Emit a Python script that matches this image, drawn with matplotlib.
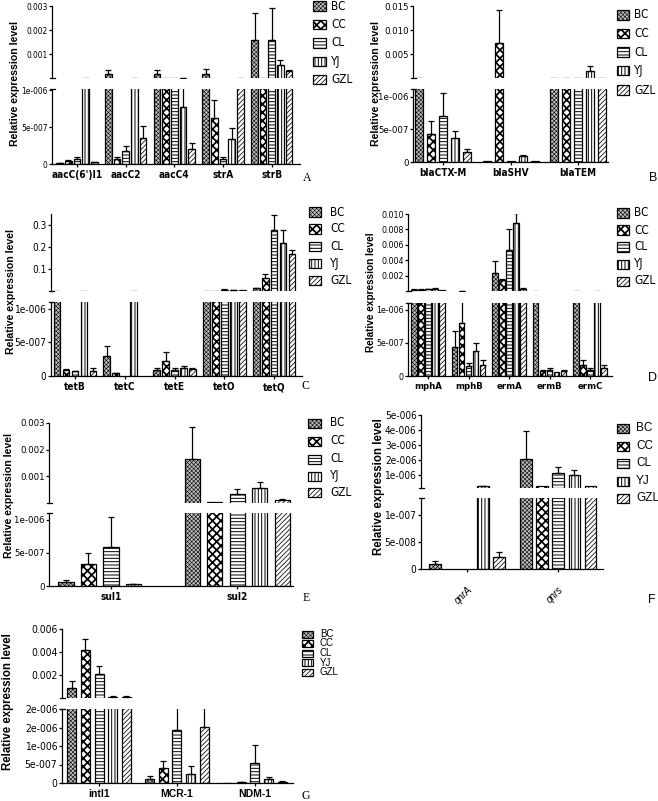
import os
import numpy as np
import matplotlib
matplotlib.use("Agg")
import matplotlib.pyplot as plt
from matplotlib.patches import Rectangle
from matplotlib import font_manager
from matplotlib.font_manager import FontProperties

# ---------------- data ----------------
SERIES = ["BC", "CC", "CL", "YJ", "GZL"]

A_GENES = ["aacC(6')I1", "aacC2", "aacC4", "strA", "strB"]
A_MEAN = [[1.5e-8, 1.8e-4, 1.8e-4, 1.8e-4, 1.58e-3],
          [3.6e-8, 6.3e-8, 2e-5, 6.2e-7, 2e-5],
          [7.2e-8, 1.8e-7, 2e-5, 7e-8, 1.58e-3],
          [2e-5, 2e-5, 7.8e-7, 3.4e-7, 5.3e-4],
          [2.2e-8, 3.6e-7, 2.1e-7, 2e-5, 2.8e-4]]
A_ERR = [[5e-9, 1.7e-4, 1.7e-4, 2e-4, 1.11e-3],
         [1.8e-8, 3.7e-8, 0, 2.5e-7, 0],
         [1.8e-8, 7e-8, 0, 3e-8, 1.33e-3],
         [0, 0, 2.7e-7, 1.5e-7, 2e-4],
         [1e-8, 1.6e-7, 8e-8, 0, 4e-5]]
A_TOP_TICKS = [0.001, 0.002, 0.003]
A_TOP_LABELS = ["0.001", "0.002", "0.003"]
A_BOT_TICKS = [0, 5e-7, 1e-6]
A_BOT_LABELS = ["0", "5e-007", "1e-006"]

B_GENES = ["blaCTX-M", "blaSHV", "blaTEM"]
B_MEAN = [[2e-5, 1e-8, 2e-5],
          [4.3e-7, 7.3e-3, 2e-5],
          [7e-7, 1e-8, 2e-5],
          [3.75e-7, 8.6e-8, 1.4e-3],
          [1.6e-7, 2e-8, 2e-5]]
B_ERR = [[0, 0, 0],
         [2e-7, 6.9e-3, 0],
         [3.6e-7, 0, 0],
         [1.05e-7, 2.4e-8, 1.2e-3],
         [4e-8, 0, 0]]
B_TOP_TICKS = [0.005, 0.010, 0.015]
B_TOP_LABELS = ["0.005", "0.010", "0.015"]
B_BOT_TICKS = [0, 5e-7, 1e-6]
B_BOT_LABELS = ["0", "5e-007", "1e-006"]

C_GENES = ["tetB", "tetC", "tetE", "tetO", "tetQ"]
C_MEAN = [[2e-4, 2.9e-7, 9.4e-8, 2e-3, 1.2e-2],
          [9e-8, 4.5e-8, 2.3e-7, 2e-3, 6e-2],
          [7e-8, 0, 9.4e-8, 6e-3, 2.79e-1],
          [2e-4, 2e-4, 1.2e-7, 5e-3, 2.18e-1],
          [7e-8, 0, 1.1e-7, 3e-3, 1.67e-1]]
C_ERR = [[0, 1.5e-7, 2.6e-8, 0, 3e-3],
         [1e-8, 5e-9, 1.2e-7, 0, 1.6e-2],
         [1e-8, 0, 2e-8, 1e-3, 6.8e-2],
         [0, 0, 3e-8, 1e-3, 5.8e-2],
         [5e-8, 0, 1.5e-8, 0, 2.1e-2]]
C_TOP_TICKS = [0.1, 0.2, 0.3]
C_TOP_LABELS = ["0.1", "0.2", "0.3"]
C_BOT_TICKS = [0, 5e-7, 1e-6]
C_BOT_LABELS = ["0", "5e-007", "1e-006"]

D_GENES = ["mphA", "mphB", "ermA", "ermB", "ermC"]
D_MEAN = [[1.8e-4, 4.4e-7, 2.34e-3, 2e-5, 2e-5],
          [1.5e-4, 8.05e-7, 1.4e-3, 7.5e-8, 1.7e-7],
          [2.5e-4, 1.5e-7, 5.35e-3, 9.5e-8, 9.5e-8],
          [3e-4, 3.7e-7, 8.8e-3, 5.5e-8, 2e-5],
          [1e-4, 1.65e-7, 2.8e-4, 7.5e-8, 1.25e-7]]
D_ERR = [[5e-5, 2.35e-7, 1.56e-3, 0, 0],
         [5e-5, 3.5e-7, 1e-4, 1.5e-8, 7.5e-8],
         [5e-5, 4.5e-8, 2.75e-3, 3e-8, 3e-8],
         [1e-4, 1.3e-7, 1.3e-3, 0, 0],
         [0, 7e-8, 5e-5, 2e-8, 4e-8]]
D_TOP_TICKS = [0.002, 0.004, 0.006, 0.008, 0.010]
D_TOP_LABELS = ["0.002", "0.004", "0.006", "0.008", "0.010"]
D_BOT_TICKS = [0, 5e-7, 1e-6]
D_BOT_LABELS = ["0", "5e-007", "1e-006"]

E_GENES = ["sul1", "sul2"]
E_MEAN = [[5.6e-8, 1.65e-3],
          [3.25e-7, 5e-5],
          [5.9e-7, 3.4e-4],
          [3e-8, 5.6e-4],
          [0, 1.2e-4]]
E_ERR = [[3e-8, 1.2e-3],
         [1.75e-7, 0],
         [4.5e-7, 1.8e-4],
         [5e-9, 2.3e-4],
         [0, 3e-5]]
E_TOP_TICKS = [0.001, 0.002, 0.003]
E_TOP_LABELS = ["0.001", "0.002", "0.003"]
E_BOT_TICKS = [0, 5e-7, 1e-6]
E_BOT_LABELS = ["0", "5e-007", "1e-006"]

F_GENES = ["qnrA", "qnrs"]
F_MEAN = [[9.3e-9, 2.07e-6],
          [0, 2.5e-7],
          [0, 1.16e-6],
          [2.5e-7, 1.0e-6],
          [2.2e-8, 2.5e-7]]
F_ERR = [[6e-9, 1.88e-6],
         [0, 0],
         [0, 3.6e-7],
         [5e-8, 3.4e-7],
         [9e-9, 0]]
F_TOP_TICKS = [1e-6, 2e-6, 3e-6, 4e-6, 5e-6]
F_TOP_LABELS = ["1e-006", "2e-006", "3e-006", "4e-006", "5e-006"]
F_BOT_TICKS = [0, 5e-8, 1e-7]
F_BOT_LABELS = ["0", "5e-008", "1e-007"]

G_GENES = ["intl1", "MCR-1", "NDM-1"]
G_MEAN = [[8.7e-4, 1.1e-7, 1e-8],
          [4.2e-3, 4e-7, 3e-8],
          [2.12e-3, 1.44e-6, 5.5e-7],
          [1.2e-4, 2.5e-7, 1.2e-7],
          [1.2e-4, 1.52e-6, 4e-8]]
G_ERR = [[6.3e-4, 7e-8, 0],
         [9e-4, 1.9e-7, 1e-8],
         [6.3e-4, 8e-7, 4.7e-7],
         [3e-5, 2.2e-7, 5e-8],
         [3e-5, 8e-7, 1e-8]]
G_TOP_TICKS = [0.002, 0.004, 0.006]
G_TOP_LABELS = ["0.002", "0.004", "0.006"]
G_BOT_TICKS = [0, 5e-7, 1e-6, 1.5e-6, 2e-6]
G_BOT_LABELS = ["0", "5e-007", "1e-006", "2e-006", "2e-006"]

# ---------------- fonts ----------------
W, H = 658, 801
fig = plt.figure(figsize=(W / 100, H / 100), dpi=100)

_files = set(f.fname for f in font_manager.fontManager.ttflist)
try:
    _files |= set(font_manager.findSystemFonts())
except Exception:
    pass
_bybase = {}
for p in _files:
    _bybase.setdefault(os.path.basename(p).lower(), p)


def find_font(cands, fallback_family, weight="normal"):
    for c in cands:
        if c.lower() in _bybase:
            return FontProperties(fname=_bybase[c.lower()])
    return FontProperties(family=fallback_family, weight=weight)


NARROW_FP = find_font(["LiberationSansNarrow-Regular.ttf", "DejaVuSansCondensed.ttf",
                       "RobotoCondensed-Regular.ttf"], "Liberation Sans")
NARROWB_FP = find_font(["LiberationSansNarrow-Bold.ttf", "DejaVuSansCondensed-Bold.ttf",
                        "RobotoCondensed-Bold.ttf"], "Liberation Sans", "bold")
SANS = "Liberation Sans"
SERIF = "Liberation Serif"


def fp(base, size):
    q = base.copy()
    q.set_size(size)
    return q


# ---------------- style ----------------
HATCH = ["xxxxxxxx", "xxxx", "-----", "|||||", "///////"]
HLW = [0.4, 1.25, 0.7, 0.7, 0.55]
FACE = ["#bdbdbd", "white", "white", "white", "white"]
LW = 0.9


def add_ax(l, t, r, b):
    return fig.add_axes([l / W, 1 - b / H, (r - l) / W, (b - t) / H])


def make_bars(ax, x, h, bottom, bw, j):
    with plt.rc_context({"hatch.linewidth": HLW[j]}):
        bars = ax.bar(x, h, width=bw, bottom=bottom, facecolor=FACE[j],
                      edgecolor="k", linewidth=LW, hatch=HATCH[j], zorder=2)
    for p in bars:
        try:
            p.set_hatch_linewidth(HLW[j])
        except AttributeError:
            pass


def errbars(ax, x, v, e):
    if len(x) == 0:
        return
    ax.errorbar(x, v, yerr=[np.zeros(len(x)), e], fmt="none", ecolor="k",
                elinewidth=LW, capsize=2.2, capthick=LW, zorder=3)


def end_cap(ax, y):
    trans = ax.get_yaxis_transform()
    wpx = ax.get_position().width * W
    k = 2.5 / wpx
    ax.plot([-k, k], [y, y], transform=trans, color="k", lw=LW, clip_on=False)


def panel(genes, mean, err, lay, tt, tl, bt, bl, rot=False):
    mean = np.asarray(mean, float)
    err = np.asarray(err, float)
    xs = np.arange(len(genes))
    axt = add_ax(lay["x0"], lay["tt"], lay["x1"], lay["tb"])
    axb = add_ax(lay["x0"], lay["bt"], lay["x1"], lay["bb"])
    t_lo, t_hi = lay["tlim"]
    b_hi = lay["bhi"]
    for ax in (axt, axb):
        ax.set_xlim(lay["xlim"])
    axt.set_ylim(t_lo, t_hi)
    axb.set_ylim(0, b_hi)
    bs, bw = lay["bs"], lay["bw"]
    base = t_lo - (t_hi - t_lo)
    for j in range(5):
        x = xs + (j - 2) * bs
        v, e = mean[j], err[j]
        m = v > 0
        make_bars(axb, x[m], v[m], 0, bw, j)
        m2 = v > t_lo
        make_bars(axt, x[m2], v[m2] - base, base, bw, j)
        me = (e > 0) & (v < b_hi)
        errbars(axb, x[me], v[me], e[me])
        mt = (e > 0) & (v + e > t_lo)
        errbars(axt, x[mt], v[mt], e[mt])
    for ax in (axt, axb):
        ax.spines["top"].set_visible(False)
        ax.spines["right"].set_visible(False)
        ax.spines["left"].set_linewidth(LW)
        ax.spines["bottom"].set_linewidth(LW)
        ax.tick_params(axis="y", direction="out", length=2.2, width=LW, pad=1)
        ax.set_facecolor("none")
    axt.spines["bottom"].set_visible(False)
    axt.set_xticks([])
    tfs = lay.get("tfs", 6.8)
    axt.set_yticks(tt)
    axt.set_yticklabels(tl, fontproperties=fp(NARROW_FP, tfs))
    axb.set_yticks(bt)
    axb.set_yticklabels(bl, fontproperties=fp(NARROW_FP, tfs))
    axb.set_xticks(xs)
    if rot:
        axb.set_xticklabels(genes, fontproperties=FontProperties(family=SANS, size=7, style="italic"),
                            rotation=45, ha="right", va="top", rotation_mode="anchor")
        axb.tick_params(axis="x", direction="out", length=2, width=LW, pad=9)
    else:
        if lay.get("xfam"):
            prop = FontProperties(family=lay["xfam"], weight="bold", size=lay.get("xfs", 7.2))
        else:
            prop = fp(NARROWB_FP, lay.get("xfs", 7.2))
        axb.set_xticklabels(genes, fontproperties=prop)
        axb.tick_params(axis="x", direction="out", length=2, width=LW, pad=2.5)
    end_cap(axt, t_lo)
    end_cap(axb, b_hi)


def legend(x_sq, w_sq, h_sq, ys, x_txt, fs, prop):
    for j, y in enumerate(ys):
        with plt.rc_context({"hatch.linewidth": HLW[j]}):
            r = Rectangle((x_sq / W, 1 - (y + h_sq / 2) / H), w_sq / W, h_sq / H,
                          transform=fig.transFigure, facecolor=FACE[j], edgecolor="k",
                          lw=LW, hatch=HATCH[j])
        try:
            r.set_hatch_linewidth(HLW[j])
        except AttributeError:
            pass
        fig.add_artist(r)
        fig.text(x_txt / W, 1 - y / H, SERIES[j], ha="left", va="center",
                 fontproperties=fp(prop, fs))


def ylabel(x, y, fs=7.6):
    fig.text(x / W, 1 - y / H, "Relative expression level", rotation=90,
             ha="center", va="center", fontsize=fs, fontweight="bold", family=SANS)


def letter(x, y, s, fam, fs):
    fig.text(x / W, 1 - y / H, s, ha="left", va="center", fontsize=fs, family=fam)


SANS_FP = FontProperties(family=SANS)

# ---------------- panels ----------------
panel(A_GENES, A_MEAN, A_ERR,
      dict(x0=52, x1=300, tt=6, tb=78, bt=89, bb=164, tlim=(1.02e-6, 0.003), bhi=1.02e-6,
           xlim=(-0.513, 4.58), bs=0.177, bw=0.137, tfs=6.0),
      A_TOP_TICKS, A_TOP_LABELS, A_BOT_TICKS, A_BOT_LABELS)
legend(313, 13, 9, [6, 24.5, 43, 61.5, 79.5], 331, 8.5, NARROW_FP)
ylabel(15, 84)
letter(303, 178, "A", SERIF, 8.5)

panel(B_GENES, B_MEAN, B_ERR,
      dict(x0=413, x1=608, tt=6, tb=78, bt=89, bb=162, tlim=(1.12e-6, 0.015), bhi=1.12e-6,
           xlim=(-0.444, 2.44), bs=0.178, bw=0.12),
      B_TOP_TICKS, B_TOP_LABELS, B_BOT_TICKS, B_BOT_LABELS)
legend(617, 12, 9, [15, 33.5, 52, 70.5, 90], 634, 8.5, NARROW_FP)
ylabel(376, 84)
letter(649, 178, "B", SANS, 9)

panel(C_GENES, C_MEAN, C_ERR,
      dict(x0=51, x1=302, tt=214, tb=291, bt=302, bb=376, tlim=(1.1e-6, 0.35), bhi=1.1e-6,
           xlim=(-0.482, 4.56), bs=0.18, bw=0.135, tfs=7.2),
      C_TOP_TICKS, C_TOP_LABELS, C_BOT_TICKS, C_BOT_LABELS)
legend(309, 12, 9, [212, 229, 246.5, 263.5, 280], 330, 8.5, NARROW_FP)
ylabel(11, 292)
letter(302, 386, "C", SERIF, 8.5)

panel(D_GENES, D_MEAN, D_ERR,
      dict(x0=408, x1=612, tt=214, tb=291, bt=303, bb=376, tlim=(1.1e-6, 0.010), bhi=1.1e-6,
           xlim=(-0.5, 4.54), bs=0.173, bw=0.136, xfs=6.8, tfs=6.3),
      D_TOP_TICKS, D_TOP_LABELS, D_BOT_TICKS, D_BOT_LABELS)
legend(617, 12, 9, [213, 230, 247, 264, 281], 634, 8.5, NARROW_FP)
ylabel(371, 292, 7.2)
letter(648, 378, "D", SANS, 9)

panel(E_GENES, E_MEAN, E_ERR,
      dict(x0=49, x1=293, tt=423, tb=503, bt=513, bb=586, tlim=(1.1e-6, 0.003), bhi=1.1e-6,
           xlim=(-0.49, 1.44), bs=0.178, bw=0.12),
      E_TOP_TICKS, E_TOP_LABELS, E_BOT_TICKS, E_BOT_LABELS)
legend(308, 13, 9, [423, 441, 459, 476, 493], 330, 8.5, NARROW_FP)
ylabel(9, 495)
letter(303, 598, "E", SERIF, 8.5)

panel(F_GENES, F_MEAN, F_ERR,
      dict(x0=421, x1=603, tt=415, tb=488, bt=498, bb=569, tlim=(1.4e-7, 5e-6), bhi=1.31e-7,
           xlim=(-0.505, 1.49), bs=0.176, bw=0.128, tfs=7.2),
      F_TOP_TICKS, F_TOP_LABELS, F_BOT_TICKS, F_BOT_LABELS, rot=True)
legend(617, 12, 9, [428, 446, 463, 481, 498], 636, 8.5, SANS_FP)
ylabel(379, 487, 8.3)
letter(648, 600, "F", SANS, 9)

panel(G_GENES, G_MEAN, G_ERR,
      dict(x0=62, x1=293, tt=629, tb=698, bt=709, bb=783, tlim=(5e-6, 0.006), bhi=2e-6,
           xlim=(-0.476, 2.49), bs=0.176, bw=0.115, tfs=7.5, xfam=SANS, xfs=7.5),
      G_TOP_TICKS, G_TOP_LABELS, G_BOT_TICKS, G_BOT_LABELS)
legend(302, 11, 7, [634, 643.5, 653, 662.5, 672], 320, 7, SANS_FP)
ylabel(8, 702, 8.3)
letter(302, 796, "G", SERIF, 8.5)

fig.savefig("out.png", dpi=100)
